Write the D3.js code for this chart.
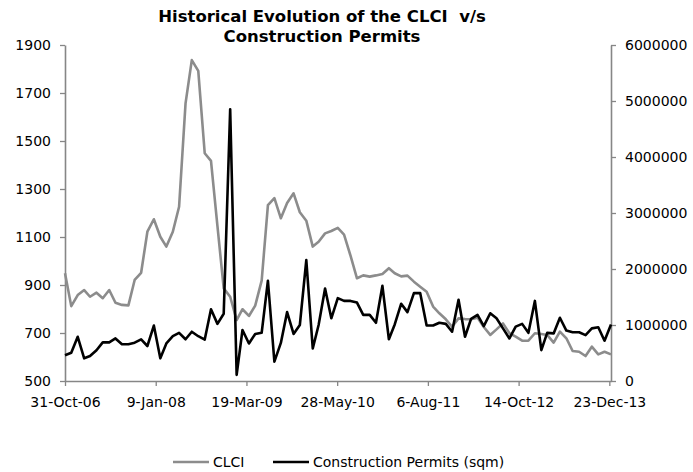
<!DOCTYPE html>
<html>
<head>
<meta charset="utf-8">
<script src="https://cdn.jsdelivr.net/npm/d3@7"></script>
<style>
  body { margin: 0; background: #fff; }
  text { font-family: "DejaVu Sans", Verdana, sans-serif; fill: #000; }
</style>
</head>
<body>
<svg id="chart" width="693" height="472"></svg>
<script>
// monthly series, month-end dates from Oct-06 to Dec-13
const firstMonth = "2006-10";
const clci = [949, 812, 858, 879, 851, 868, 845, 879, 826, 817, 815, 921, 951, 1122, 1174, 1101, 1060, 1122, 1226, 1657,
  1837, 1792, 1449, 1417, 1145, 886, 851, 754, 799, 771, 814, 918, 1233, 1262, 1178, 1242, 1282, 1203, 1168, 1060,
  1080, 1115, 1125, 1138, 1110, 1022, 928, 940, 935, 940, 946, 970, 949, 936, 939, 914, 893, 872, 810, 782,
  757, 726, 761, 758, 757, 764, 725, 692, 715, 740, 699, 685, 668, 668, 699, 696, 692, 660, 706, 678,
  625, 622, 604, 643, 611, 622, 611];
const permits = [460000, 505000, 790000, 405000, 446000, 550000, 690000, 690000, 760000, 655000, 655000, 685000, 745000, 625000, 990000, 405000, 670000, 800000, 860000, 745000,
  880000, 800000, 740000, 1280000, 1020000, 1200000, 4850000, 110000, 910000, 670000, 840000, 860000, 1790000, 345000, 680000, 1230000, 840000, 1000000, 2160000, 580000,
  1000000, 1650000, 1120000, 1480000, 1430000, 1430000, 1400000, 1180000, 1180000, 1040000, 1700000, 745000, 1010000, 1380000, 1230000, 1570000, 1570000, 990000, 990000, 1040000,
  1020000, 880000, 1450000, 790000, 1110000, 1180000, 980000, 1210000, 1120000, 940000, 760000, 970000, 1020000, 860000, 1430000, 550000, 860000, 850000, 1130000, 900000,
  870000, 870000, 820000, 940000, 960000, 720000, 1010000];
const xTickLabels = ["31-Oct-06", "9-Jan-08", "19-Mar-09", "28-May-10", "6-Aug-11", "14-Oct-12", "23-Dec-13"];
const leftTicks = [500, 700, 900, 1100, 1300, 1500, 1700, 1900];
const rightTicks = [0, 1000000, 2000000, 3000000, 4000000, 5000000, 6000000];
const titleLines = ["Historical Evolution of the CLCI  v/s", "Construction Permits"];
const seriesNames = ["CLCI", "Construction Permits (sqm)"];

const grey = "#8c8c8c";
const axisGrey = "#868686";
const margin = { left: 65, right: 611, top: 45, bottom: 381 };

const start = d3.utcParse("%Y-%m")(firstMonth);
const dates = clci.map((_, i) => d3.utcDay.offset(d3.utcMonth.offset(start, i + 1), -1));

const svg = d3.select("#chart");

const x = d3.scaleUtc()
    .domain(d3.extent(dates))
    .range([margin.left, margin.right]);
const yLeft = d3.scaleLinear()
    .domain([500, 1900])
    .range([margin.bottom, margin.top]);
const yRight = d3.scaleLinear()
    .domain([0, 6000000])
    .range([margin.bottom, margin.top]);

// Title
svg.append("g")
    .selectAll("text")
    .data(titleLines)
    .join("text")
    .attr("x", 322)
    .attr("y", (d, i) => 21.5 + i * 20)
    .attr("text-anchor", "middle")
    .attr("font-size", 16.5)
    .attr("font-weight", "bold")
    .style("white-space", "pre")
    .text(d => d);

// Axes
const parseTick = d3.utcParse("%d-%b-%y");
const xAxis = svg.append("g")
    .attr("transform", `translate(0, ${margin.bottom})`)
    .call(d3.axisBottom(x)
        .tickValues(xTickLabels.map(parseTick))
        .tickFormat(d3.utcFormat("%-d-%b-%y"))
        .tickSize(5)
        .tickSizeOuter(0)
        .tickPadding(11));

const leftAxis = svg.append("g")
    .attr("transform", `translate(${margin.left}, 0)`)
    .call(d3.axisLeft(yLeft).tickValues(leftTicks).tickFormat(d3.format("d")).tickSize(5).tickSizeOuter(0).tickPadding(9));

const rightAxis = svg.append("g")
    .attr("transform", `translate(${margin.right}, 0)`)
    .call(d3.axisRight(yRight).tickValues(rightTicks).tickFormat(d3.format("d")).tickSize(5).tickSizeOuter(0).tickPadding(9));

[xAxis, leftAxis, rightAxis].forEach(g => {
    g.select(".domain").attr("stroke", axisGrey).attr("stroke-width", 1.6);
    g.selectAll(".tick line").attr("stroke", axisGrey).attr("stroke-width", 1.3);
    g.selectAll(".tick text")
        .attr("font-size", 14)
        .attr("font-family", "DejaVu Sans, Verdana, sans-serif")
        .attr("fill", "#000");
});

// Lines
const clciLine = d3.line()
    .x((d, i) => x(dates[i]))
    .y(d => yLeft(d));
const permitLine = d3.line()
    .x((d, i) => x(dates[i]))
    .y(d => yRight(d));

svg.append("path")
    .datum(clci)
    .attr("fill", "none")
    .attr("stroke", grey)
    .attr("stroke-width", 2.6)
    .attr("stroke-linejoin", "round")
    .attr("d", clciLine);

svg.append("path")
    .datum(permits)
    .attr("fill", "none")
    .attr("stroke", "#000")
    .attr("stroke-width", 2.6)
    .attr("stroke-linejoin", "round")
    .attr("d", permitLine);

// Legend
const legend = svg.append("g").attr("transform", "translate(0, 462)");
const legendItems = [
    { name: seriesNames[0], color: grey, x: 173 },
    { name: seriesNames[1], color: "#000", x: 273 }
];
legendItems.forEach(item => {
    legend.append("line")
        .attr("x1", item.x).attr("x2", item.x + 36)
        .attr("y1", 0).attr("y2", 0)
        .attr("stroke", item.color)
        .attr("stroke-width", 2.6);
    legend.append("text")
        .attr("x", item.x + 40)
        .attr("dy", "0.35em")
        .attr("font-size", 14)
        .text(item.name);
});
</script>
</body>
</html>
